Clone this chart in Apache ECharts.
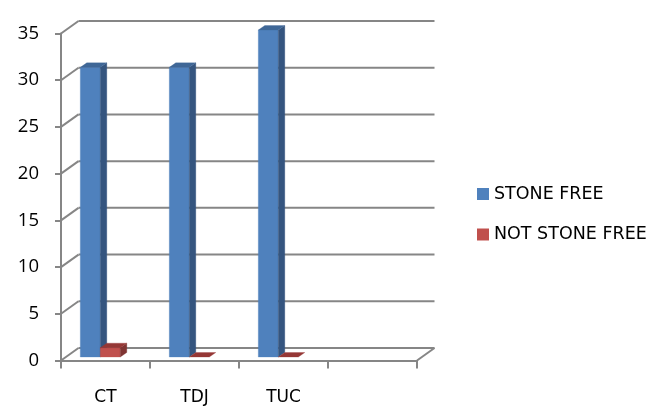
<!DOCTYPE html>
<html>
<head>
<meta charset="utf-8">
<style>html,body{margin:0;padding:0;background:#fff}#c{width:654px;height:416px}</style>
<script src="https://cdn.jsdelivr.net/npm/echarts@6/dist/echarts.min.js"></script>
</head>
<body>
<div id="c"></div>
<script>
const categories = ['CT', 'TDJ', 'TUC', ''];
const yTicks = [0, 5, 10, 15, 20, 25, 30, 35];
const stoneFree = [31, 31, 35];
const notStoneFree = [1, 0, 0];

const GREY = '#868686';
const FONT = '"DejaVu Sans",sans-serif';
const NUMFONT = '"Open Sans","Noto Sans",sans-serif';
const wallDx = 17.5, wallDy = -12.5;
const barDx = 6.5, barDy = -4.5, planeDy = -3.5;
const barW = 20;

function poly(points, fill) {
  return { type: 'polygon', shape: { points }, style: { fill, stroke: fill, lineWidth: 0.3 } };
}
function bar3d(offset, front, side, top) {
  return function (params, api) {
    const c = api.coord([api.value(0), api.value(1)]);
    const b = api.coord([api.value(0), 0]);
    const x0 = c[0] + offset, x1 = x0 + barW;
    const yT = c[1] + planeDy, yB = b[1] + planeDy;
    const kids = [];
    if (yB - yT > 0.5) {
      kids.push(poly([[x0, yT], [x1, yT], [x1, yB], [x0, yB]], front));
      kids.push(poly([[x1, yT], [x1 + barDx, yT + barDy], [x1 + barDx, yB + barDy], [x1, yB]], side));
    }
    kids.push(poly([[x0, yT], [x0 + barDx, yT + barDy], [x1 + barDx, yT + barDy], [x1, yT]], top));
    return { type: 'group', children: kids };
  };
}
function wall(params, api) {
  const cs = params.coordSys;
  const y = api.coord([0, api.value(1)])[1];
  const left = cs.x, right = cs.x + cs.width;
  const ls = { stroke: GREY, lineWidth: 2 };
  const kids = [
    { type: 'line', shape: { x1: left, y1: y, x2: left + wallDx, y2: y + wallDy }, style: ls },
    { type: 'line', shape: { x1: left + wallDx, y1: y + wallDy, x2: right + wallDx, y2: y + wallDy }, style: ls }
  ];
  if (api.value(1) === 0) {
    kids.push({ type: 'line', shape: { x1: right, y1: y, x2: right + wallDx, y2: y + wallDy }, style: ls });
  }
  return { type: 'group', children: kids };
}

const chart = echarts.init(document.getElementById('c'), null, { renderer: 'canvas' });
chart.setOption({
  animation: false,
  backgroundColor: '#fff',
  grid: { left: 61, top: 33.5, width: 356, height: 327 },
  legend: {
    left: 472, top: 180, orient: 'vertical', itemWidth: 12, itemHeight: 12, itemGap: 22.5,
    icon: 'rect', selectedMode: false,
    textStyle: { fontFamily: FONT, fontSize: 17.5, color: '#000' },
    data: ['STONE FREE', 'NOT STONE FREE']
  },
  xAxis: {
    type: 'category', data: categories, boundaryGap: true,
    axisLine: { lineStyle: { color: GREY, width: 2 } },
    axisTick: { show: true, length: 8, lineStyle: { color: GREY, width: 2 } },
    axisLabel: { margin: 29, fontFamily: FONT, fontSize: 17, color: '#000' },
    splitLine: { show: false }
  },
  yAxis: {
    type: 'value', min: 0, max: 35, interval: 5,
    axisLine: { show: true, lineStyle: { color: GREY, width: 2 } },
    axisTick: { show: true, length: 6, lineStyle: { color: GREY, width: 2 } },
    axisLabel: { margin: 22, fontFamily: NUMFONT, fontSize: 18.5, color: '#000' },
    splitLine: { show: false }
  },
  series: [
    { type: 'custom', name: 'walls', silent: true, z: 1, clip: false, renderItem: wall,
      data: yTicks.map(t => [0, t]) },
    { type: 'custom', name: 'STONE FREE', z: 2, clip: false, itemStyle: { color: '#4F81BD' },
      renderItem: bar3d(-25.2, '#4F81BD', '#35557F', '#3F6797'),
      data: stoneFree.map((v, i) => [categories[i], v]) },
    { type: 'custom', name: 'NOT STONE FREE', z: 3, clip: false, itemStyle: { color: '#C0504D' },
      renderItem: bar3d(-5.2, '#C0504D', '#7F3533', '#953735'),
      data: notStoneFree.map((v, i) => [categories[i], v]) }
  ]
});
</script>
</body>
</html>
